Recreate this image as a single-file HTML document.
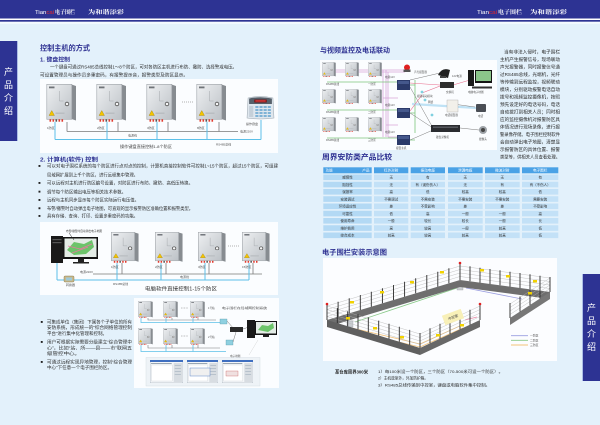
<!DOCTYPE html>
<html><head><meta charset="utf-8"><style>
html,body{margin:0;padding:0;width:600px;height:425px;overflow:hidden;background:#e3f1fb}
svg{display:block}
text{font-family:"Liberation Sans","Noto Sans CJK SC",sans-serif}
.t{fill:#2e3192;font-weight:bold}
.b{fill:#2a2a2a}
.s{fill:#555;font-size:3px}
</style></head><body>
<svg width="600" height="425" viewBox="0 0 600 425" xmlns="http://www.w3.org/2000/svg">
<defs>
<linearGradient id="cg" x1="0" y1="0" x2="1" y2="1"><stop offset="0" stop-color="#eef0f2"/><stop offset="1" stop-color="#bcc1c6"/></linearGradient>
<symbol id="cab" viewBox="0 0 30 38" preserveAspectRatio="none">
 <polygon points="25,0.5 29.5,2 29.5,36.5 25,35" fill="#878c91"/>
 <rect x="0.3" y="0.3" width="25" height="35" fill="url(#cg)" stroke="#9ea3a8" stroke-width="0.6"/>
 <rect x="2.5" y="2.5" width="5.5" height="1.8" fill="#707479"/>
 <path d="M13 7 V17 H17" fill="none" stroke="#a3a7ab" stroke-width="0.5"/>
 <circle cx="20.5" cy="20" r="1.8" fill="#f6f6f6" stroke="#4a4a4a" stroke-width="0.8"/>
 <polygon points="2.5,31.5 8,31.5 5.25,26.5" fill="#f4c400" stroke="#8a6d00" stroke-width="0.3"/>
 <rect x="9" y="28.5" width="9" height="1.5" fill="#b9bdc1"/>
 <rect x="3" y="35.3" width="1.6" height="2.4" fill="#e23a2e"/>
 <rect x="6" y="35.3" width="1.6" height="2.4" fill="#e23a2e"/>
 <rect x="9" y="35.3" width="1.6" height="2.4" fill="#555"/>
 <rect x="12" y="35.3" width="1.6" height="2.4" fill="#e23a2e"/>
 <rect x="15" y="35.3" width="1.6" height="2.4" fill="#e23a2e"/>
</symbol>
<symbol id="kp" viewBox="0 0 28 24" preserveAspectRatio="none">
 <path d="M2 2 Q14 -1 26 2 L27 22 Q14 24 1 22 Z" fill="#dfe7ee" stroke="#9aa5ae" stroke-width="0.5"/>
 <path d="M3 2.5 Q14 0 25 2.5 L25 8 L3 8 Z" fill="#56606a"/>
 <rect x="8" y="3.5" width="12" height="3" fill="#7a1212"/>
 <rect x="9" y="4.3" width="10" height="1.3" fill="#e04040"/>
 <g fill="#7fb3d6">
  <rect x="9" y="10" width="3" height="2"/><rect x="13" y="10" width="3" height="2"/><rect x="17" y="10" width="3" height="2"/><rect x="21" y="10" width="3" height="2"/>
  <rect x="9" y="13" width="3" height="2"/><rect x="13" y="13" width="3" height="2"/><rect x="17" y="13" width="3" height="2"/><rect x="21" y="13" width="3" height="2"/>
  <rect x="9" y="16" width="3" height="2"/><rect x="13" y="16" width="3" height="2"/><rect x="17" y="16" width="3" height="2"/><rect x="21" y="16" width="3" height="2"/>
  <rect x="9" y="19" width="3" height="2"/><rect x="13" y="19" width="3" height="2"/><rect x="17" y="19" width="3" height="2"/><rect x="21" y="19" width="3" height="2"/>
 </g>
 <rect x="3" y="10" width="4" height="11" fill="#c5d0d9"/>
</symbol>
<symbol id="win" viewBox="0 0 32 23" preserveAspectRatio="none">
 <rect x="0" y="0" width="32" height="23" fill="#f4f6f8" stroke="#8a9aa8" stroke-width="0.5"/>
 <rect x="0" y="0" width="32" height="2" fill="#3f6fc0"/>
 <rect x="1" y="3" width="20" height="1" fill="#9aa7b4"/>
 <rect x="23" y="3" width="8" height="19" fill="#d8dde2"/>
 <g fill="#b8c2cc"><rect x="24" y="5" width="6" height="1"/><rect x="24" y="8" width="6" height="1"/><rect x="24" y="11" width="6" height="1"/><rect x="24" y="14" width="6" height="1"/></g>
 <rect x="1.5" y="5" width="20" height="16" fill="#ffffff" stroke="#c4cad0" stroke-width="0.3"/>
</symbol>
</defs>

<!-- header -->
<rect x="0" y="0" width="600" height="18.5" fill="#2d3393"/>
<rect x="0" y="18.5" width="600" height="1.5" fill="#ffffff"/>
<rect x="0" y="20" width="600" height="1.8" fill="#2d3393"/>
<rect x="0" y="21.8" width="600" height="2" fill="#f4f9fe"/>
<text x="35" y="13.8" font-size="5.5" fill="#ffffff" textLength="19" lengthAdjust="spacingAndGlyphs">Tian<tspan fill="#e8262a">cai</tspan></text>
<text x="55" y="14" font-size="5.5" fill="#ffffff" font-weight="bold" style="font-family:'Noto Serif CJK SC',serif" textLength="20" lengthAdjust="spacingAndGlyphs">电子围栏</text>
<text x="88" y="14" font-size="5.5" fill="#ffffff" font-weight="bold" style="font-family:'Noto Serif CJK SC',serif" textLength="36" lengthAdjust="spacingAndGlyphs">为和谐添彩</text>
<text x="477" y="14" font-size="5.5" fill="#ffffff" textLength="20" lengthAdjust="spacingAndGlyphs">Tian<tspan fill="#e8262a">cai</tspan></text>
<text x="498" y="14" font-size="5.5" fill="#ffffff" font-weight="bold" style="font-family:'Noto Serif CJK SC',serif" textLength="24" lengthAdjust="spacingAndGlyphs">电子围栏</text>
<text x="530" y="14" font-size="5.5" fill="#ffffff" font-weight="bold" style="font-family:'Noto Serif CJK SC',serif" textLength="37" lengthAdjust="spacingAndGlyphs">为和谐添彩</text>

<!-- side tabs -->
<rect x="0" y="41" width="17" height="100" fill="#2d3393"/>
<rect x="17" y="41" width="0.8" height="100" fill="#9fb0e0"/>
<g fill="#ffffff" font-size="9" text-anchor="middle">
<text x="8.5" y="75">产</text><text x="8.5" y="88">品</text><text x="8.5" y="101">介</text><text x="8.5" y="114">绍</text>
</g>
<rect x="583" y="274" width="17" height="107" fill="#2d3393"/>
<rect x="582.2" y="274" width="0.8" height="107" fill="#9fb0e0"/>
<g fill="#ffffff" font-size="9" text-anchor="middle">
<text x="591.5" y="311">产</text><text x="591.5" y="324">品</text><text x="591.5" y="337">介</text><text x="591.5" y="350">绍</text>
</g>

<!-- LEFT PAGE -->
<text x="40" y="50.5" font-size="7.2" class="t" textLength="50" lengthAdjust="spacingAndGlyphs">控制主机的方式</text>
<text x="40" y="61.5" font-size="5.5" class="t" textLength="30" lengthAdjust="spacingAndGlyphs">1. 键盘控制</text>
<g font-size="4.3" class="b">
<text x="50" y="68.6" textLength="187" lengthAdjust="spacingAndGlyphs">一个键盘可通过RS485总线控制1～8个防区，可对各防区主机进行布防、撤防、选择警戒电压。</text>
<text x="40" y="76.6" textLength="148" lengthAdjust="spacingAndGlyphs">可设置管理员与操作员多重密码，有报警提示音，报警类型及防区显示。</text>
</g>

<!-- diagram 1 -->
<rect x="40" y="79" width="238" height="74" fill="#fbfdff"/>
<use href="#cab" x="46.5" y="84" width="30" height="38"/>
<use href="#cab" x="96.5" y="84" width="30" height="38"/>
<use href="#cab" x="146.5" y="84" width="30" height="38"/>
<use href="#cab" x="196.5" y="84" width="30" height="38"/>
<line x1="182" y1="102" x2="193" y2="102" stroke="#666" stroke-width="0.6" stroke-dasharray="1 1"/>
<use href="#kp" x="246" y="96" width="29" height="24"/>
<path d="M67 122 V131.5 M118 122 V131.5 M168 122 V131.5 M219 122 V131.5 M67 131.5 H238" fill="none" stroke="#7a7a7a" stroke-width="0.8"/>
<path d="M55 122 V139.5 M107 122 V139.5 M157 122 V139.5 M207 122 V139.5 M261 120 V139.5 M55 139.5 H261" fill="none" stroke="#5cc0e8" stroke-width="1"/>
<g class="s"><text x="47" y="129">1防区</text><text x="97" y="129">2防区</text><text x="147" y="129">3防区</text><text x="197" y="129">8防区</text>
<text x="128" y="136.5">电源线</text><text x="240" y="132.5">电源220V</text><text x="246" y="125">操作键盘</text><text x="216" y="145.5">RS485总线</text></g>
<text x="120" y="148" font-size="4" fill="#444" textLength="52" lengthAdjust="spacingAndGlyphs">操作键盘直接控制1-8个防区</text>

<text x="40" y="161.3" font-size="5.5" class="t" textLength="58" lengthAdjust="spacingAndGlyphs">2. 计算机(软件) 控制</text>
<g fill="#222"><rect x="38.5" y="165" width="1.9" height="1.9"/><rect x="38.5" y="182" width="1.9" height="1.9"/><rect x="38.5" y="190.7" width="1.9" height="1.9"/><rect x="38.5" y="199" width="1.9" height="1.9"/><rect x="38.5" y="207.3" width="1.9" height="1.9"/><rect x="38.5" y="215" width="1.9" height="1.9"/></g>
<g font-size="4.3" class="b">
<text x="47" y="167.6" textLength="231" lengthAdjust="spacingAndGlyphs">可以对电子围栏系统的每个防区进行点对点的控制，计算机直接控制软件可控制1~15个防区，超过15个防区，可组建</text>
<text x="47" y="176.3" textLength="91" lengthAdjust="spacingAndGlyphs">局域网扩展到上千个防区，进行远程集中管理。</text>
<text x="47" y="184.6" textLength="146" lengthAdjust="spacingAndGlyphs">可以远程对主机进行防区编号设置，对防区进行布防、撤防、高低压转换。</text>
<text x="47" y="193.3" textLength="79" lengthAdjust="spacingAndGlyphs">调节每个防区输出电压等相关技术参数。</text>
<text x="47" y="201.6" textLength="92" lengthAdjust="spacingAndGlyphs">远程与主机同步显示每个防区实际运行电压值。</text>
<text x="47" y="209.9" textLength="146" lengthAdjust="spacingAndGlyphs">布警/撤警时自动弹出电子地图，可直观的显示报警防区准确位置和报警类型。</text>
<text x="47" y="217.6" textLength="91" lengthAdjust="spacingAndGlyphs">具有存储、查询、打印、设置多重密码的功能。</text>
</g>

<!-- diagram 2 -->
<rect x="40" y="222" width="238" height="73" fill="#fbfdff"/>
<rect x="51" y="236" width="12" height="27" fill="#1a1a1a"/>
<rect x="52.5" y="239" width="9" height="1.2" fill="#555"/><rect x="52.5" y="242" width="9" height="1.2" fill="#555"/>
<rect x="63" y="237" width="35" height="22" fill="#141414"/>
<rect x="64.5" y="238.5" width="32" height="18.5" fill="#e4ece6"/>
<polygon points="67,250 74,242 84,244 92,240 94,247 86,254 74,255" fill="#6cc46a"/>
<path d="M68 246 L80 249 L92 244 M72 253 L88 247" stroke="#e67aa0" stroke-width="0.8" fill="none"/>
<rect x="78" y="259" width="6" height="3" fill="#222"/><rect x="73" y="262" width="16" height="1.5" fill="#222"/>
<line x1="69" y1="233" x2="74" y2="240" stroke="#222" stroke-width="0.5"/>
<text x="66" y="232" font-size="2.8" fill="#444" textLength="36" lengthAdjust="spacingAndGlyphs">布警/撤警时自动弹出电子地图</text>
<use href="#cab" x="111" y="232" width="28" height="31"/>
<use href="#cab" x="155" y="232" width="28" height="31"/>
<use href="#cab" x="198" y="232" width="28" height="31"/>
<use href="#cab" x="242" y="232" width="28" height="31"/>
<line x1="228" y1="246" x2="240" y2="246" stroke="#666" stroke-width="0.6" stroke-dasharray="1 1"/>
<path d="M122 263 V274 M166 263 V274 M209 263 V274 M253 263 V274 M93 274 H262" fill="none" stroke="#7a7a7a" stroke-width="0.8"/>
<path d="M117 263 V280 M161 263 V280 M205 263 V280 M249 263 V280 M57 263 V280 M57 280 H249" fill="none" stroke="#5cc0e8" stroke-width="1"/>
<rect x="64" y="276" width="10" height="6" rx="1" fill="#c9b98a" stroke="#7a6a40" stroke-width="0.4"/>
<rect x="66" y="277.5" width="6" height="3" fill="#9fc9d8"/>
<g class="s"><text x="111" y="268">1防区</text><text x="155" y="268">2防区</text><text x="198" y="268">3防区</text><text x="242" y="268">15防区</text>
<text x="80" y="273">电源220V</text><text x="180" y="278">电源线</text><text x="113" y="285">RS485总线</text><text x="66" y="286">转换器</text></g>
<text x="145" y="290.5" font-size="5" fill="#333" textLength="72" lengthAdjust="spacingAndGlyphs">电脑软件直接控制1-15个防区</text>

<!-- diagram 3 -->
<rect x="134" y="298" width="145" height="90" fill="#fbfdff"/>
<use href="#cab" x="138" y="301" width="15" height="17"/>
<use href="#cab" x="163" y="301" width="15" height="17"/>
<use href="#cab" x="190" y="301" width="15" height="17"/>
<use href="#cab" x="138" y="328" width="15" height="17"/>
<use href="#cab" x="163" y="328" width="15" height="17"/>
<use href="#cab" x="190" y="328" width="15" height="17"/>
<line x1="181" y1="308" x2="188" y2="308" stroke="#666" stroke-width="0.5" stroke-dasharray="0.8 0.8"/>
<line x1="181" y1="336" x2="188" y2="336" stroke="#666" stroke-width="0.5" stroke-dasharray="0.8 0.8"/>
<path d="M148 318 V320 H216 M172 318 V320 M198 318 V320 M148 345 V348 H220 M172 345 V348 M198 345 V348" fill="none" stroke="#7a7a7a" stroke-width="0.6"/>
<path d="M141 318 V322.5 H221 M166 318 V322.5 M193 318 V322.5 M141 345 V351.5 H226 M166 345 V351.5 M193 345 V351.5" fill="none" stroke="#5cc0e8" stroke-width="0.8"/>
<rect x="220" y="319" width="7" height="5" fill="#8fd0e0" stroke="#4a8a9a" stroke-width="0.3"/>
<rect x="226" y="340" width="7" height="5" fill="#8fd0e0" stroke="#4a8a9a" stroke-width="0.3"/>
<path d="M227 321 L234 329 M233 342 L236 332 M243 329 L249 327" stroke="#777" stroke-width="0.5" fill="none"/>
<rect x="230" y="327" width="13" height="5" fill="#2a2a2a"/>
<rect x="247" y="320" width="8" height="18" fill="#1a1a1a"/>
<rect x="255" y="321" width="22" height="14" fill="#141414"/>
<rect x="256" y="322" width="20" height="11.5" fill="#e4ece6"/>
<polygon points="258,330 262,325 268,326 273,323 274,328 268,332" fill="#6cc46a"/>
<rect x="263" y="335" width="6" height="2" fill="#222"/>
<line x1="258" y1="340" x2="249" y2="355" stroke="#ffffff" stroke-width="1.6" stroke-dasharray="2 1"/>
<line x1="258" y1="340" x2="249" y2="355" stroke="#c8ccd0" stroke-width="0.4"/>
<g class="s" style="font-size:2.6px"><text x="208" y="309">1号站</text><text x="208" y="338">2号站</text><text x="230" y="357">电子地图</text></g>
<text x="222" y="309" font-size="2.6" fill="#444" textLength="45" lengthAdjust="spacingAndGlyphs">电子围栏在局域网控制系统</text>
<rect x="146" y="357.5" width="114" height="28.5" fill="#eef3f7" stroke="#d0d8de" stroke-width="0.4"/>
<use href="#win" x="150" y="360" width="33" height="23"/>
<use href="#win" x="187" y="360" width="31" height="23"/>
<use href="#win" x="222" y="360" width="31" height="23"/>
<rect x="190" y="368" width="20" height="8" fill="#f0f0f0" stroke="#3f6fc0" stroke-width="0.4"/>
<rect x="226" y="371" width="12" height="5" fill="#f0e0e0" stroke="#c04040" stroke-width="0.3"/>

<g fill="#222"><rect x="40.8" y="321" width="1.9" height="1.9"/><rect x="40.8" y="341" width="1.9" height="1.9"/><rect x="40.8" y="361" width="1.9" height="1.9"/></g>
<g font-size="4.3" class="b">
<text x="47" y="323.6" textLength="85" lengthAdjust="spacingAndGlyphs">可集成单位（集团）下属各个子单位的所有</text>
<text x="47" y="329.2" textLength="85" lengthAdjust="spacingAndGlyphs">安防系统，形成统一的“综合网络管理控制</text>
<text x="47" y="334.8" textLength="60" lengthAdjust="spacingAndGlyphs">平台”进行集中化管理和控制。</text>
<text x="47" y="343.6" textLength="85" lengthAdjust="spacingAndGlyphs">用户可根据实际需要分级建立“综合管理中</text>
<text x="47" y="349.4" textLength="85" lengthAdjust="spacingAndGlyphs">心”，比如“站、所——县——市”联网五</text>
<text x="47" y="355" textLength="33" lengthAdjust="spacingAndGlyphs">级管控中心。</text>
<text x="47" y="363.6" textLength="85" lengthAdjust="spacingAndGlyphs">可通过远程实现异地管理，控制“综合管理</text>
<text x="47" y="369.2" textLength="65" lengthAdjust="spacingAndGlyphs">中心”下任意一个电子围栏防区。</text>
</g>

<!-- RIGHT PAGE -->
<text x="320" y="52.5" font-size="7" class="t" textLength="70" lengthAdjust="spacingAndGlyphs">与视频监控及电话联动</text>

<!-- video diagram -->
<rect x="320" y="60" width="177" height="90" fill="#fbfdff"/>
<path d="M333 70 H407 M333 72 H405 M383 70 V137 M386 70 V137 M388 72 V137 M383 98 H398 M386 125 H398 M388 137 H398" fill="none" stroke="#d7a6d9" stroke-width="0.8"/>
<path d="M327 82 H400 M327 110 H400 M327 138 H400 M415 80 V133 M410 85 H415 M410 113 H415 M410 140 H415" fill="none" stroke="#7dc67d" stroke-width="0.8"/>
<use href="#cab" x="322" y="62" width="14" height="15"/>
<use href="#cab" x="345" y="62" width="14" height="15"/>
<use href="#cab" x="368" y="62" width="14" height="15"/>
<use href="#cab" x="322" y="89" width="14" height="15"/>
<use href="#cab" x="345" y="89" width="14" height="15"/>
<use href="#cab" x="368" y="89" width="14" height="15"/>
<use href="#cab" x="322" y="117" width="14" height="15"/>
<use href="#cab" x="345" y="117" width="14" height="15"/>
<use href="#cab" x="368" y="117" width="14" height="15"/>
<path d="M412 104 L477 108" stroke="#bfe2f5" stroke-width="2.2"/>
<path d="M410 83 L440 85 M422 93 L440 86 M410 111 L422 95 M453 85 L470 80" stroke="#e86a8a" stroke-width="0.6" fill="none"/>
<path d="M410 87 L433 128 M410 113 L433 128 M410 140 L433 130 M460 128 L479 130 M410 80 L440 73 M453 104 L475 107" stroke="#7a7a7a" stroke-width="0.5" fill="none"/>
<rect x="397" y="80" width="13" height="10" fill="#2b3a6a"/><rect x="398" y="81" width="11" height="3" fill="#45588c"/>
<rect x="397" y="108" width="13" height="10" fill="#2b3a6a"/><rect x="398" y="109" width="11" height="3" fill="#45588c"/>
<rect x="397" y="135" width="13" height="10" fill="#2b3a6a"/><rect x="398" y="136" width="11" height="3" fill="#45588c"/>
<circle cx="407" cy="67.5" r="3" fill="#e02020"/><rect x="403.5" y="69.5" width="7" height="2.5" fill="#555"/>
<path d="M438 75 Q442 67 450 70 L448 78 Z" fill="#222"/><rect x="440" y="76" width="6" height="2" fill="#444"/>
<rect x="440" y="82" width="14" height="6" fill="#2e2e2e"/>
<circle cx="422" cy="92" r="1.4" fill="#7fd0e0"/><circle cx="425" cy="100" r="1.4" fill="#7fd0e0"/><circle cx="432" cy="115" r="1.4" fill="#7fd0e0"/>
<rect x="468" y="70" width="6" height="16" fill="#1a1a1a"/>
<rect x="475" y="70" width="17" height="13" fill="#141414"/><rect x="476" y="71" width="15" height="10" fill="#8bc58a"/>
<rect x="472" y="86.5" width="20" height="2" fill="#333"/>
<rect x="447" y="100" width="11" height="12" fill="#f2f0ea" stroke="#aaa" stroke-width="0.4"/>
<rect x="476" y="104" width="10" height="8" rx="1" fill="#4a4e55"/>
<rect x="431" y="125" width="29" height="7" fill="#2a2c30"/><rect x="433" y="126.5" width="25" height="1.5" fill="#55585e"/>
<circle cx="483" cy="130" r="4" fill="#9ea3a8"/><circle cx="483" cy="130" r="2" fill="#444"/>
<g class="s" style="font-size:2.6px">
<text x="326" y="85">RS485总线</text><text x="326" y="113">RS485总线</text><text x="326" y="141">RS485总线</text>
<text x="368" y="85">一防区</text><text x="368" y="113">二防区</text><text x="368" y="141">三防区</text>
<text x="385" y="78">电源12V</text><text x="385" y="106">电源12V</text><text x="385" y="133">电源12V</text>
<text x="414" y="73">声光报警器</text><text x="452" y="77">12V电源</text><text x="446" y="93">交换机</text>
<text x="417" y="97">视频联动模块</text><text x="428" y="103">网络</text><text x="468" y="93">电脑电子地图</text>
<text x="445" y="116">电话报警器</text><text x="478" y="117">电话</text><text x="436" y="138">硬盘录像机</text><text x="479" y="140">摄像头</text><text x="396" y="149">报警主机</text>
</g>

<!-- right text column -->
<g font-size="4.6" class="b">
<text x="504" y="53.4" textLength="56" lengthAdjust="spacingAndGlyphs">当有非法入侵时，电子围栏</text>
<text x="500" y="60.9" textLength="60" lengthAdjust="spacingAndGlyphs">主机产生报警信号，现场联动</text>
<text x="500" y="68.4" textLength="60" lengthAdjust="spacingAndGlyphs">声光报警器，同时报警信号通</text>
<text x="500" y="75.9" textLength="60" lengthAdjust="spacingAndGlyphs">过RS485总线，光端机，光纤</text>
<text x="500" y="83.4" textLength="60" lengthAdjust="spacingAndGlyphs">等传输到远程监控，视频联动</text>
<text x="500" y="90.9" textLength="60" lengthAdjust="spacingAndGlyphs">模块，分别驱动报警电话自动</text>
<text x="500" y="98.4" textLength="60" lengthAdjust="spacingAndGlyphs">拨号和视频监控摄像机，按照</text>
<text x="500" y="105.9" textLength="60" lengthAdjust="spacingAndGlyphs">预先设定好的电话号码，电话</text>
<text x="500" y="113.4" textLength="60" lengthAdjust="spacingAndGlyphs">自动拨打到相关人员；同时相</text>
<text x="500" y="120.9" textLength="60" lengthAdjust="spacingAndGlyphs">应的监控摄像机对报警防区具</text>
<text x="500" y="128.4" textLength="60" lengthAdjust="spacingAndGlyphs">体情况进行现场录像，进行报</text>
<text x="500" y="135.9" textLength="60" lengthAdjust="spacingAndGlyphs">警录像存储。电子围栏控制软件</text>
<text x="500" y="143.4" textLength="60" lengthAdjust="spacingAndGlyphs">会自动弹出电子地图，清楚显</text>
<text x="500" y="150.9" textLength="60" lengthAdjust="spacingAndGlyphs">示报警防区的具体位置、报警</text>
<text x="500" y="158.4" textLength="60" lengthAdjust="spacingAndGlyphs">类型等，供相关人员查看处理。</text>
</g>

<!-- table -->
<text x="322" y="159.7" font-size="7.5" class="t" textLength="70" lengthAdjust="spacingAndGlyphs">周界安防类产品比较</text>
<g fill="#4aa2e6">
<rect x="323.3" y="167.3" width="48.4" height="6"/><rect x="374" y="167.3" width="34.3" height="6"/><rect x="410.7" y="167.3" width="34.3" height="6"/><rect x="448" y="167.3" width="34.7" height="6"/><rect x="485" y="167.3" width="34.7" height="6"/><rect x="522" y="167.3" width="36.3" height="6"/>
</g>
<g font-size="3.6" fill="#ffffff">
<text x="325.5" y="171.6">功能</text><text x="369.5" y="171.6" text-anchor="end">产品</text>
<g text-anchor="middle"><text x="391.2" y="171.6">红外对射</text><text x="427.8" y="171.6">振动电缆</text><text x="465.3" y="171.6">泄漏电缆</text><text x="502.3" y="171.6">微波对射</text><text x="540.2" y="171.6">电子围栏</text></g>
</g>
<g fill="#c3e1f7">
<rect x="374" y="174.5" width="34.3" height="5.6"/><rect x="410.7" y="174.5" width="34.3" height="5.6"/><rect x="448" y="174.5" width="34.7" height="5.6"/><rect x="485" y="174.5" width="34.7" height="5.6"/><rect x="522" y="174.5" width="36.3" height="5.6"/>
<rect x="374" y="181.75" width="34.3" height="5.6"/><rect x="410.7" y="181.75" width="34.3" height="5.6"/><rect x="448" y="181.75" width="34.7" height="5.6"/><rect x="485" y="181.75" width="34.7" height="5.6"/><rect x="522" y="181.75" width="36.3" height="5.6"/>
<rect x="374" y="189" width="34.3" height="5.6"/><rect x="410.7" y="189" width="34.3" height="5.6"/><rect x="448" y="189" width="34.7" height="5.6"/><rect x="485" y="189" width="34.7" height="5.6"/><rect x="522" y="189" width="36.3" height="5.6"/>
<rect x="374" y="196.25" width="34.3" height="5.6"/><rect x="410.7" y="196.25" width="34.3" height="5.6"/><rect x="448" y="196.25" width="34.7" height="5.6"/><rect x="485" y="196.25" width="34.7" height="5.6"/><rect x="522" y="196.25" width="36.3" height="5.6"/>
<rect x="374" y="203.5" width="34.3" height="5.6"/><rect x="410.7" y="203.5" width="34.3" height="5.6"/><rect x="448" y="203.5" width="34.7" height="5.6"/><rect x="485" y="203.5" width="34.7" height="5.6"/><rect x="522" y="203.5" width="36.3" height="5.6"/>
<rect x="374" y="210.75" width="34.3" height="5.6"/><rect x="410.7" y="210.75" width="34.3" height="5.6"/><rect x="448" y="210.75" width="34.7" height="5.6"/><rect x="485" y="210.75" width="34.7" height="5.6"/><rect x="522" y="210.75" width="36.3" height="5.6"/>
<rect x="374" y="218" width="34.3" height="5.6"/><rect x="410.7" y="218" width="34.3" height="5.6"/><rect x="448" y="218" width="34.7" height="5.6"/><rect x="485" y="218" width="34.7" height="5.6"/><rect x="522" y="218" width="36.3" height="5.6"/>
<rect x="374" y="225.25" width="34.3" height="5.6"/><rect x="410.7" y="225.25" width="34.3" height="5.6"/><rect x="448" y="225.25" width="34.7" height="5.6"/><rect x="485" y="225.25" width="34.7" height="5.6"/><rect x="522" y="225.25" width="36.3" height="5.6"/>
<rect x="374" y="232.5" width="34.3" height="5.6"/><rect x="410.7" y="232.5" width="34.3" height="5.6"/><rect x="448" y="232.5" width="34.7" height="5.6"/><rect x="485" y="232.5" width="34.7" height="5.6"/><rect x="522" y="232.5" width="36.3" height="5.6"/>
</g>
<g fill="#b3d9f4">
<rect x="323.3" y="174.5" width="48.4" height="5.6"/><rect x="323.3" y="181.75" width="48.4" height="5.6"/><rect x="323.3" y="189" width="48.4" height="5.6"/><rect x="323.3" y="196.25" width="48.4" height="5.6"/><rect x="323.3" y="203.5" width="48.4" height="5.6"/><rect x="323.3" y="210.75" width="48.4" height="5.6"/><rect x="323.3" y="218" width="48.4" height="5.6"/><rect x="323.3" y="225.25" width="48.4" height="5.6"/><rect x="323.3" y="232.5" width="48.4" height="5.6"/>
</g>
<g font-size="3.5" fill="#333" text-anchor="middle">
<text x="347.5" y="178.6">威慑性</text><text x="391.2" y="178.6">无</text><text x="427.8" y="178.6">有</text><text x="465.3" y="178.6">无</text><text x="502.3" y="178.6">无</text><text x="540.2" y="178.6">有</text>
<text x="347.5" y="185.85">阻挡性</text><text x="391.2" y="185.85">无</text><text x="427.8" y="185.85">有（误伤伤人）</text><text x="465.3" y="185.85">无</text><text x="502.3" y="185.85">有</text><text x="540.2" y="185.85">有（不伤人）</text>
<text x="347.5" y="193.1">误报率</text><text x="391.2" y="193.1">高</text><text x="427.8" y="193.1">低</text><text x="465.3" y="193.1">较高</text><text x="502.3" y="193.1">较高</text><text x="540.2" y="193.1">低</text>
<text x="347.5" y="200.35">安装调试</text><text x="391.2" y="200.35">不需调试</text><text x="427.8" y="200.35">不需安装</text><text x="465.3" y="200.35">不需安装</text><text x="502.3" y="200.35">不需安装</text><text x="540.2" y="200.35">需要安装</text>
<text x="347.5" y="207.6">环境适应性</text><text x="391.2" y="207.6">差</text><text x="427.8" y="207.6">不受影响</text><text x="465.3" y="207.6">差</text><text x="502.3" y="207.6">差</text><text x="540.2" y="207.6">不受影响</text>
<text x="347.5" y="214.85">可靠性</text><text x="391.2" y="214.85">低</text><text x="427.8" y="214.85">高</text><text x="465.3" y="214.85">一般</text><text x="502.3" y="214.85">一般</text><text x="540.2" y="214.85">高</text>
<text x="347.5" y="222.1">使用寿命</text><text x="391.2" y="222.1">一般</text><text x="427.8" y="222.1">较长</text><text x="465.3" y="222.1">较长</text><text x="502.3" y="222.1">一般</text><text x="540.2" y="222.1">长</text>
<text x="347.5" y="229.35">维护费用</text><text x="391.2" y="229.35">高</text><text x="427.8" y="229.35">较高</text><text x="465.3" y="229.35">一般</text><text x="502.3" y="229.35">较高</text><text x="540.2" y="229.35">低</text>
<text x="347.5" y="236.6">综合成本</text><text x="391.2" y="236.6">较高</text><text x="427.8" y="236.6">较高</text><text x="465.3" y="236.6">较高</text><text x="502.3" y="236.6">较高</text><text x="540.2" y="236.6">低</text>
</g>

<!-- fence diagram -->
<text x="322" y="254.3" font-size="7" class="t" textLength="65" lengthAdjust="spacingAndGlyphs">电子围栏安装示意图</text>
<rect x="323" y="258" width="234" height="103" fill="#fcfdff"/>
<!-- inner lines -->
<path d="M355 322 L457 288" stroke="#86c886" stroke-width="0.8" fill="none"/>
<path d="M466 288 L522 299" stroke="#9a9ee0" stroke-width="0.8" fill="none"/>
<path d="M352 328 L420 344 L462 325 M352 331 L420 347 L463 328" stroke="#f2c27a" stroke-width="0.8" fill="none"/>
<path d="M465 320 L477 317" stroke="#e88aa8" stroke-width="0.8"/>
<rect x="457" y="284" width="6" height="6" fill="#c9cdd1" stroke="#8a8f94" stroke-width="0.3"/>
<rect x="347" y="321" width="6" height="6" fill="#c9cdd1" stroke="#8a8f94" stroke-width="0.3"/>
<!-- wall bands -->
<polygon points="327,320 460,280 460,287 327,327" fill="#6e6e6e"/>
<polygon points="460,280 550,292 550,299 460,287" fill="#6e6e6e"/>
<polygon points="550,292 550,299 510,325 510,318" fill="#777"/>
<polygon points="327,320 420,348 420,355 327,327" fill="#5f5f5f"/>
<polygon points="420,348 480,320 480,327 420,355" fill="#686868"/>
<!-- wires -->
<g stroke="#b5b5b5" stroke-width="0.4" fill="none">
<path d="M327 316.5 L460 276.5 M327 313 L460 273 M327 309.5 L460 269.5 M327 306 L460 266"/>
<path d="M460 276.5 L550 288.5 M460 273 L550 285 M460 269.5 L550 281.5 M460 266 L550 278"/>
<path d="M550 288.5 L510 314.5 M550 285 L510 311 M550 281.5 L510 307.5 M550 278 L510 304"/>
<path d="M327 316.5 L420 344.5 M327 313 L420 341 M327 309.5 L420 337.5 M327 306 L420 334"/>
<path d="M420 344.5 L480 316.5 M420 341 L480 313 M420 337.5 L480 309.5 M420 334 L480 306"/>
</g>
<!-- posts -->
<path stroke="#2b2b2b" stroke-width="0.9" fill="none" d="M327 320 v-15 M338.1 316.7 v-15 M349.2 313.3 v-15 M360.3 310 v-15 M371.3 306.7 v-15 M382.4 303.3 v-15 M393.5 300 v-15 M404.6 296.7 v-15 M415.7 293.3 v-15 M426.8 290 v-15 M437.8 286.7 v-15 M448.9 283.3 v-15 M460 280 v-16
M470 281.3 v-15 M480 282.7 v-15 M490 284 v-15 M500 285.3 v-15 M510 286.7 v-15 M520 288 v-15 M530 289.3 v-15 M540 290.7 v-15 M550 292 v-15
M540 298.5 v-15 M530 305 v-15 M520 311.5 v-15 M510 318 v-15
M337.3 323.1 v-15 M347.7 326.2 v-15 M358 329.3 v-15 M368.3 332.4 v-15 M378.7 335.6 v-15 M389 338.7 v-15 M399.3 341.8 v-15 M409.7 344.9 v-15 M420 348 v-15
M430 343.3 v-15 M440 338.7 v-15 M450 334 v-15 M460 329.3 v-15 M470 324.7 v-15 M480 320 v-15"/>
<g fill="#e02020"><circle cx="327" cy="304" r="1.3"/><circle cx="460" cy="263" r="1.3"/><circle cx="480" cy="304" r="1.3"/></g>
<g fill="#f2d200"><rect x="350" y="301" width="4" height="2.5"/><rect x="380" y="291" width="4" height="2.5"/><rect x="410" y="281" width="4" height="2.5"/><rect x="440" y="271" width="4" height="2.5"/><rect x="480" y="269" width="4" height="2.5"/><rect x="506" y="275" width="4" height="2.5"/><rect x="533" y="280" width="4" height="2.5"/><rect x="528" y="292" width="4" height="2.5"/><rect x="346" y="317" width="4" height="2.5"/><rect x="373" y="327" width="4" height="2.5"/><rect x="400" y="336" width="4" height="2.5"/><rect x="436" y="334" width="4" height="2.5"/><rect x="460" y="324" width="4" height="2.5"/></g>
<g transform="rotate(-20 453 317)"><rect x="443" y="312" width="20" height="10" fill="#f8f0b8"/><text x="453" y="318.5" font-size="3.5" fill="#444" text-anchor="middle">中控室</text></g>
<path d="M511 335.7 H528" stroke="#9a9ee0" stroke-width="0.9"/>
<path d="M511 340.3 H528" stroke="#86c886" stroke-width="0.9"/>
<path d="M511 345 H528" stroke="#f2c27a" stroke-width="0.9"/>
<g class="s" style="font-size:2.8px"><text x="530" y="336.7">一防区</text><text x="530" y="341.3">二防区</text><text x="530" y="346">三防区</text></g>

<text x="335" y="373.5" font-size="4.5" fill="#222" font-weight="bold" textLength="33" lengthAdjust="spacingAndGlyphs">某仓库周界300米</text>
<g font-size="3.8" class="b">
<text x="378" y="373.2" textLength="125" lengthAdjust="spacingAndGlyphs">1）每100米设一个防区，三个防区（70-500米可设一个防区）。</text>
<text x="378" y="379.3" textLength="50" lengthAdjust="spacingAndGlyphs">2）主机放室外，外加防护箱。</text>
<text x="378" y="386.5" textLength="112" lengthAdjust="spacingAndGlyphs">3）RS485总线传输到中控室，键盘或电脑软件集中控制。</text>
</g>
</svg>
</body></html>
